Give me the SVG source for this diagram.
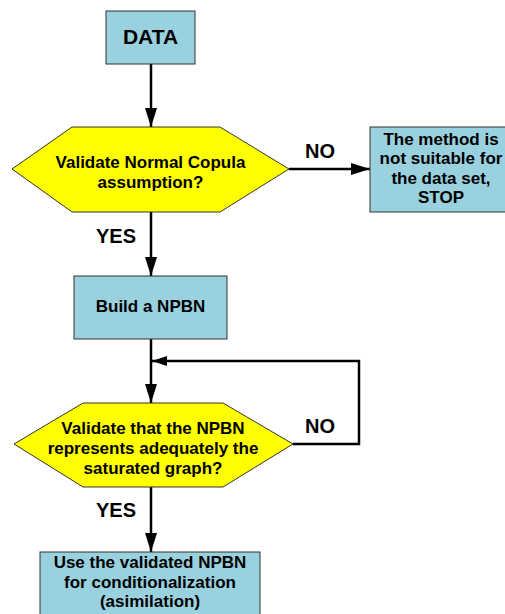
<svg xmlns="http://www.w3.org/2000/svg" width="505" height="614" viewBox="0 0 505 614">
  <style>
    .box { fill: #99D1DE; stroke: #333333; stroke-width: 1; }
    .dec { fill: #FFFF00; stroke: #333333; stroke-width: 1; }
    .t { font-family: "Liberation Sans", Arial, sans-serif; font-weight: bold; font-size: 17px; fill: #000; text-anchor: middle; }
    .lbl { font-family: "Liberation Sans", Arial, sans-serif; font-weight: bold; font-size: 20px; fill: #000; }
    .ln { fill: none; stroke: #000; stroke-width: 2.5; }
  </style>
  <defs>
    <marker id="ah" markerUnits="userSpaceOnUse" markerWidth="19" markerHeight="12" refX="19" refY="6" orient="auto">
      <path d="M0,0 L19,6 L0,12 Z" fill="#000"/>
    </marker>
    <marker id="ah-small" markerUnits="userSpaceOnUse" markerWidth="15" markerHeight="10" refX="15" refY="5" orient="auto">
      <path d="M0,0 L15,5 L0,10 Z" fill="#000"/>
    </marker>
  </defs>
  <rect width="505" height="614" fill="#fff"/>

  <g id="connectors">
    <line class="ln" x1="151" y1="64" x2="151" y2="127" marker-end="url(#ah)"/>
    <line class="ln" x1="289" y1="169" x2="370" y2="169" marker-end="url(#ah)"/>
    <line class="ln" x1="151" y1="212" x2="151" y2="276" marker-end="url(#ah)"/>
    <line class="ln" x1="151" y1="339" x2="151" y2="403" marker-end="url(#ah)"/>
    <polyline class="ln" points="293,444 359,444 359,361 152,361" marker-end="url(#ah-small)"/>
    <line class="ln" x1="151" y1="487" x2="151" y2="552" marker-end="url(#ah)"/>
    <text class="lbl" x="305" y="158">NO</text>
    <text class="lbl" x="96" y="243">YES</text>
    <text class="lbl" x="305" y="433">NO</text>
    <text class="lbl" x="96" y="517">YES</text>
  </g>

  <g id="data">
    <rect class="box" x="106" y="11" width="89" height="53"/>
    <text class="t" x="150.5" y="44" style="font-size:21px">DATA</text>
  </g>

  <g id="validate-copula">
    <polygon class="dec" points="12,169 72,127 220,127 289,169 220,212 72,212"/>
    <text class="t" x="150.5" y="168">Validate Normal Copula</text>
    <text class="t" x="150.5" y="188">assumption?</text>
  </g>

  <g id="stop">
    <rect class="box" x="370" y="127" width="142" height="85"/>
    <text class="t" x="441" y="145">The method is</text>
    <text class="t" x="441" y="164">not suitable for</text>
    <text class="t" x="441" y="184">the data set,</text>
    <text class="t" x="441" y="203">STOP</text>
  </g>

  <g id="build">
    <rect class="box" x="74" y="276" width="153" height="63"/>
    <text class="t" x="150.5" y="312">Build a NPBN</text>
  </g>

  <g id="validate-npbn">
    <polygon class="dec" points="14,444 83,403 223,403 293,444 223,487 83,487"/>
    <text class="t" x="153" y="434">Validate that the NPBN</text>
    <text class="t" x="153" y="454">represents adequately the</text>
    <text class="t" x="153" y="474">saturated graph?</text>
  </g>

  <g id="use">
    <rect class="box" x="40" y="552" width="220" height="70"/>
    <text class="t" x="150" y="568">Use the validated NPBN</text>
    <text class="t" x="150" y="588">for conditionalization</text>
    <text class="t" x="150" y="607">(asimilation)</text>
  </g>
</svg>
